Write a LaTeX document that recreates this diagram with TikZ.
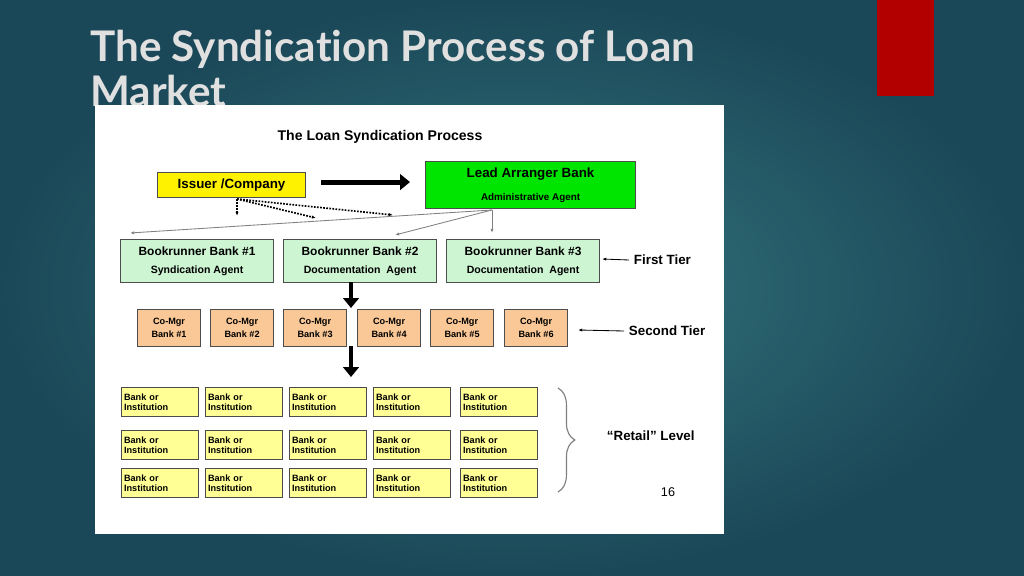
\documentclass[tikz,border=0pt]{standalone}
\usepackage{fontspec}
\setmainfont{Liberation Sans}
\newfontfamily\titlefont[Ligatures=NoCommon]{Lato}
\usetikzlibrary{arrows.meta, positioning, calc, decorations.pathreplacing}

\definecolor{peach}{RGB}{250,200,150}
\definecolor{paleyellow}{RGB}{255,255,150}
\definecolor{palegreen}{RGB}{205,245,210}

\begin{document}
\begin{tikzpicture}[
    x=0.025cm, y=-0.025cm,
    font=\bfseries,
    box/.style={rectangle, draw=black!70, line width=0.8pt, anchor=north west, align=center, inner sep=0pt},
    cobox/.style={box, fill=peach, minimum width=63*0.025cm, minimum height=37*0.025cm, font=\bfseries\fontsize{6.5}{9}\selectfont},
    retail/.style={box, fill=paleyellow, minimum width=77*0.025cm, minimum height=29*0.025cm, font=\bfseries\fontsize{6.5}{7.5}\selectfont, align=left, text width=72*0.025cm},
    book/.style={box, fill=palegreen, minimum width=153*0.025cm, minimum height=43*0.025cm, font=\bfseries\fontsize{8.5}{13}\selectfont},
    bigarrow/.style={-{Triangle[length=7pt, width=11pt]}, line width=3.5pt},
    thin/.style={-{Latex[length=3pt]}, gray, line width=0.6pt},
    dotarrow/.style={-{Latex[length=3pt]}, densely dotted, line width=1.2pt},
    tier/.style={font=\bfseries\fontsize{9.5}{11}\selectfont, anchor=west},
]

% Slide background
\shade[inner color={rgb,255:red,52;green,118;blue,126}, outer color={rgb,255:red,27;green,72;blue,88}] (0,0) rectangle (1024,576);
\fill[red!70!black] (877,0) rectangle (934,96);

% Title
\node[font=\titlefont\bfseries\fontsize{30}{32}\selectfont, text=white!88!black, anchor=north west, align=left, inner sep=0pt] (title) at (90,30) {The Syndication Process of Loan\\Market};

% Panel
\fill[white] (95,105) rectangle (724,534);
\node[font=\bfseries\fontsize{10}{12}\selectfont] (head) at (380,137) {The Loan Syndication Process};

% Top row
\node[box, fill=yellow, minimum width=148*0.025cm, minimum height=25*0.025cm, font=\bfseries\fontsize{9.5}{11}\selectfont] (issuer) at (157,172) {Issuer /Company};
\node[box, fill=green!90!black, minimum width=210*0.025cm, minimum height=47*0.025cm, font=\bfseries\fontsize{9.5}{16}\selectfont] (lead) at (425,161) {Lead Arranger Bank\\{\fontsize{7}{9}\selectfont Administrative Agent}};

% First tier
\node[book] (br1) at (120,239) {Bookrunner Bank \#1\\{\fontsize{7.5}{9}\selectfont Syndication Agent}};
\node[book] (br2) at (283,239) {Bookrunner Bank \#2\\{\fontsize{7.5}{9}\selectfont Documentation\ \ Agent}};
\node[book] (br3) at (446,239) {Bookrunner Bank \#3\\{\fontsize{7.5}{9}\selectfont Documentation\ \ Agent}};

% Second tier
\foreach \i/\x in {1/137, 2/210, 3/283, 4/357, 5/430, 6/504}
  \node[cobox] (co\i) at (\x,309) {Co-Mgr\\Bank \#\i};

% Retail level
\foreach \c/\x in {1/121, 2/205, 3/289, 4/373, 5/460}
  \foreach \r/\y in {1/387, 2/430, 3/468}
    \node[retail] (bk\r\c) at (\x,\y) {Bank or\\Institution};

% Arrows
\draw[bigarrow] ($(issuer.east)+(15,-3)$) coordinate (ia) -- ($(lead.west)+(-15,-3)$) coordinate (la);
\draw[bigarrow] (351,282) coordinate (d1) -- (351,308) coordinate (d2);
\draw[bigarrow] (351,346) coordinate (d3) -- (351,377) coordinate (d4);

\coordinate (iss) at (237,199);
\draw[dotarrow] (iss) -- (237,216);
\draw[dotarrow] (iss) -- (316,218);
\draw[dotarrow] (iss) -- (393,215);

\coordinate (ld) at (492,210);
\draw[thin] (ld) -- (130,233);
\draw[thin] (ld) -- (395,235);
\draw[thin] (ld) -- (492,233);

% Tier labels
\node[tier] (t1) at (629,260) {First Tier};
\draw[-{Latex[length=3pt]}, black, line width=0.6pt] (t1.west) -- (602,259);
\node[tier] (t2) at (624,331) {Second Tier};
\draw[-{Latex[length=3pt]}, black, line width=0.6pt] (t2.west) -- (578,330);
\draw[gray, line width=0.8pt, decorate, decoration={brace, amplitude=12pt}] (558,388) -- (558,492);
\node[tier] (t3) at (602,436) {``Retail'' Level};
\node[font=\fontsize{9}{11}\selectfont] (pg) at (668,492) {16};

\end{tikzpicture}
\end{document}
